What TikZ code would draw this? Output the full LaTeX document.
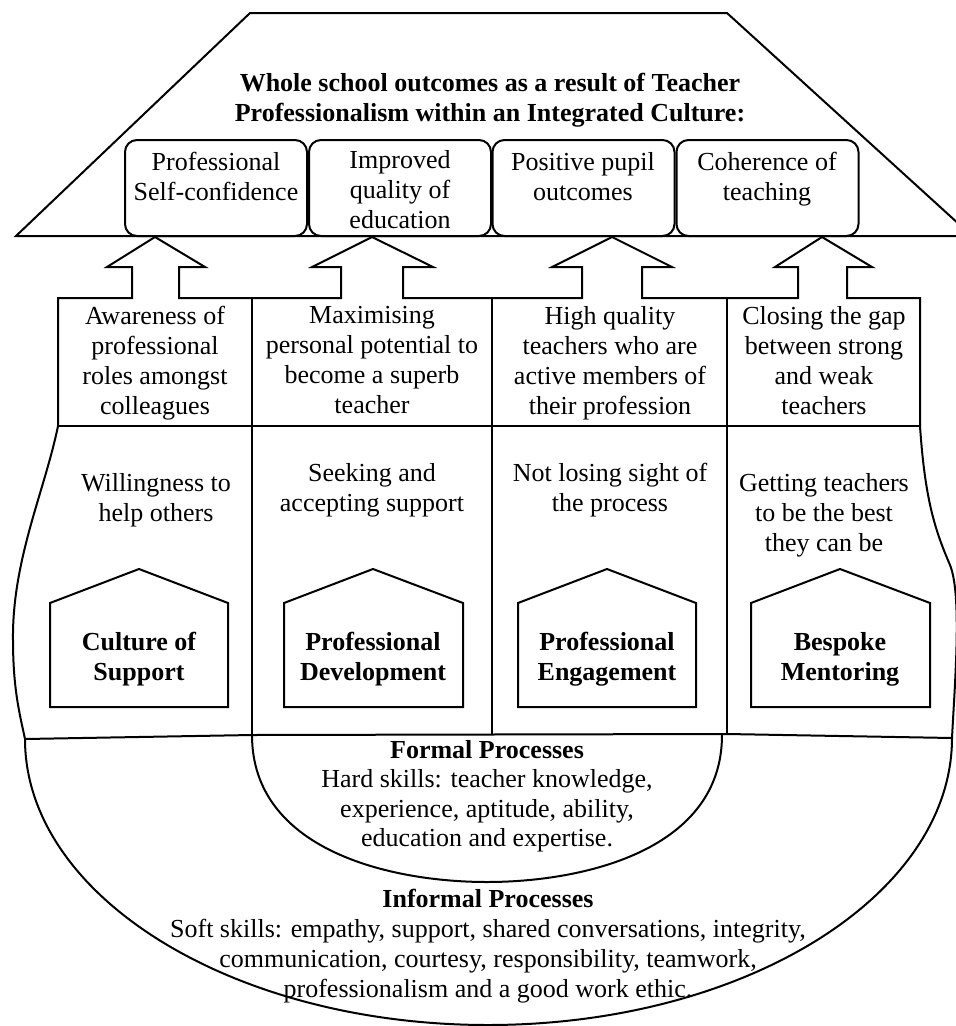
\documentclass[tikz,border=0pt]{standalone}
\usepackage{fontspec}
\setmainfont{Liberation Serif}
\begin{document}
\begin{tikzpicture}[x=1pt,y=-1pt,line width=2pt,
  txt/.style={font=\fontsize{26}{30}\selectfont, align=center, inner sep=0pt,
    execute at begin node=\strut, execute at end node=\strut},
  btxt/.style={txt, font=\fontsize{26}{30}\selectfont\bfseries},
  obox/.style={draw, rounded corners=12pt, minimum width=182pt, minimum height=96pt, inner sep=0pt},
  outline/.style={draw, line width=2pt}]
\useasboundingbox (0,0) rectangle (956,1026);

% roof
\draw[outline] (250,13) -- (727,13) -- (972,236) -- (16,236) -- cycle;
\node[btxt] (title) at (490,102) {Whole school outcomes as a result of Teacher\\Professionalism within an Integrated Culture:};

% outcome boxes
\node[obox] (o1) at (216,188) {};
\node[obox] (o2) at (400,188) {};
\node[obox] (o3) at (583.5,188) {};
\node[obox] (o4) at (767.5,188) {};
\node[txt] (t1) at (216,180.5) {Professional\\Self-confidence};
\node[txt] (t2) at (400,194) {Improved\\quality of\\education};
\node[txt] (t3) at (583,180.5) {Positive pupil\\outcomes};
\node[txt] (t4) at (767,180.5) {Coherence of\\teaching};

% arrow tips on the roof line
\coordinate (a1) at (155,237);
\coordinate (a2) at (372,237);
\coordinate (a3) at (612,237);
\coordinate (a4) at (822,237);

% column top outline with block arrows
\draw[outline] (58,426) -- (58,298) -- (132,298) -- (132,267) -- (107,267) -- (a1) -- (205,267) -- (179,267) -- (179,298)
  -- (341,298) -- (341,267) -- (312,267) -- (a2) -- (433,267) -- (403,267) -- (403,298)
  -- (582,298) -- (582,267) -- (552,267) -- (a3) -- (672,267) -- (642,267) -- (642,298)
  -- (798,298) -- (798,267) -- (775,267) -- (a4) -- (872,267) -- (847,267) -- (847,298)
  -- (920,298) -- (920,426);

% middle line and dividers
\draw[outline] (58,426) -- (920,426);
\draw[outline] (252,298) -- (252,735);
\draw[outline] (492,298) -- (492,734);
\draw[outline] (727,298) -- (727,734);

% wavy sides
\draw[outline] (58,426) .. controls (45,490) and (12,560) .. (13,640) .. controls (13,690) and (20,715) .. (25,739);
\draw[outline] (920,426) .. controls (925,500) and (935,530) .. (950,565) .. controls (962,595) and (955,680) .. (952,738);

% column bottom line
\draw[outline] (25,739) -- (252,735) -- (727,734) -- (952,738);

% formal semicircle
\draw[outline] (252,735) .. controls (252,850) and (390,882) .. (487,882) .. controls (584,882) and (722,850) .. (722,735);
% outer arc
\draw[outline] (25,739) .. controls (25,896) and (232,1025) .. (488,1025) .. controls (744,1025) and (952,896) .. (952,738);

% column texts
\node[txt] (c1) at (155,364.5) {Awareness of\\professional\\roles amongst\\colleagues};
\node[txt] (c2) at (372,364.5) {Maximising\\personal potential to\\become a superb\\teacher};
\node[txt] (c3) at (610,364.5) {High quality\\teachers who are\\active members of\\their profession};
\node[txt] (c4) at (824,364.5) {Closing the gap\\between strong\\and weak\\teachers};

% lower texts
\node[txt] (l1) at (156,501.5) {Willingness to\\help others};
\node[txt] (l2) at (372,491.5) {Seeking and\\accepting support};
\node[txt] (l3) at (610,491.5) {Not losing sight of\\the process};
\node[txt] (l4) at (824,516.5) {Getting teachers\\to be the best\\they can be};

% houses
\draw[outline] (50,707) -- (50,603) -- (139,569) -- (228,603) -- (228,707) -- cycle;
\draw[outline] (284,707) -- (284,603) -- (373,569) -- (463,603) -- (463,707) -- cycle;
\draw[outline] (518,707) -- (518,603) -- (607,569) -- (696,603) -- (696,707) -- cycle;
\draw[outline] (751,707) -- (751,603) -- (840,569) -- (930,603) -- (930,707) -- cycle;
\node[btxt] (h1) at (139,661) {Culture of\\Support};
\node[btxt] (h2) at (373,661) {Professional\\Development};
\node[btxt] (h3) at (607,661) {Professional\\Engagement};
\node[btxt] (h4) at (840,661) {Bespoke\\Mentoring};

% bottom texts
\node[txt, font=\fontsize{26}{29.5}\selectfont] (formal) at (487,798) {\textbf{Formal Processes}\\Hard skills: teacher knowledge,\\experience, aptitude, ability,\\education and expertise.};
\node[txt] (informal) at (488,948) {\textbf{Informal Processes}\\Soft skills: empathy, support, shared conversations, integrity,\\communication, courtesy, responsibility, teamwork,\\professionalism and a good work ethic.};
\end{tikzpicture}
\end{document}
